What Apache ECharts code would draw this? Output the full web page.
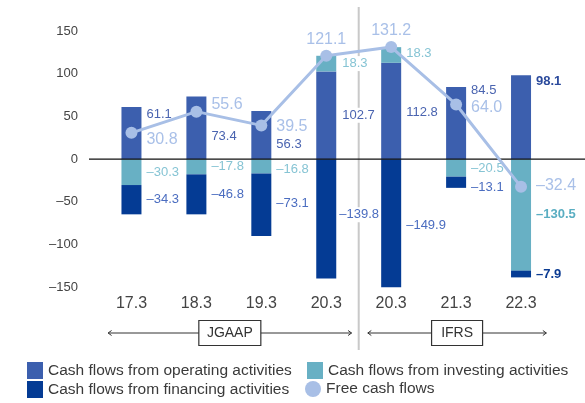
<!DOCTYPE html>
<html>
<head>
<meta charset="utf-8">
<script src="https://cdn.jsdelivr.net/npm/echarts@6/dist/echarts.min.js"></script>
<style>
  html, body { margin: 0; padding: 0; background: #fff; }
  #chart { width: 585px; height: 403px; }
</style>
</head>
<body>
<div id="chart"></div>
<script>
// data (billions of yen)
const categories = ['17.3', '18.3', '19.3', '20.3', '20.3', '21.3', '22.3'];
const operating = [61.1, 73.4, 56.3, 102.7, 112.8, 84.5, 98.1];
const investing = [-30.3, -17.8, -16.8, 18.3, 18.3, -20.5, -130.5];
const financing = [-34.3, -46.8, -73.1, -139.8, -149.9, -13.1, -7.9];
const freeCashFlow = [30.8, 55.6, 39.5, 121.1, 131.2, 64.0, -32.4];
const yTicks = [-150, -100, -50, 0, 50, 100, 150];
const standards = [
    { name: 'JGAAP', first: 0, last: 3 },
    { name: 'IFRS', first: 4, last: 6 }
];

// label nudges (px) so the texts sit where they do in the original
const opDy = [-19, 9, 9, 0, 1, -33, -36];
const invDy = [0, 0, 3, 0, -2, 1, 0];
const finDy = [0, 0, -1, -4, 2, 5, 0];
const fcfDy = [7, -7, 1, 0, 0, 3, -1];

const FONT = '"Liberation Sans", Arial, sans-serif';
const C_OP = '#3c5fae', C_INV = '#68b0c4', C_FIN = '#043b94', C_FCF = '#a8bfe6';

const fmt = v => (v < 0 ? '\u2013' : '') + Math.abs(v).toFixed(1);

const chartDom = document.getElementById('chart');
const myChart = echarts.init(chartDom);

function barItems(values, dy, lastColor, sep) {
    return values.map((v, i) => {
        const label = { offset: [0, dy[i]] };
        if (i === values.length - 1) {
            label.fontWeight = 'bold';
            label.color = lastColor;
        }
        if (i === 3) {
            // the JGAAP 20.3 labels cover the separator line
            label.backgroundColor = '#fff';
            label.padding = [1, 1];
            if (sep) label.offset = [-3, dy[i]];
        }
        return { value: v, label: label };
    });
}

const barLabel = (color) => ({
    show: true,
    position: 'right',
    distance: 5,
    color: color,
    fontSize: 13,
    fontFamily: FONT,
    formatter: p => fmt(p.value)
});

const legendBase = {
    padding: 0,
    itemWidth: 16,
    itemHeight: 17,
    itemGap: 0,
    textStyle: { fontSize: 15.5, color: '#3a3a3a', fontFamily: FONT },
    selectedMode: false
};

const option = {
    animation: false,
    grid: { left: 99, right: 31.5, top: 31, bottom: 115.7 },
    xAxis: {
        type: 'category',
        data: categories,
        axisLine: { show: false },
        axisTick: { show: false },
        axisLabel: { fontSize: 16, color: '#444', fontFamily: FONT, margin: 8 }
    },
    yAxis: {
        type: 'value',
        min: yTicks[0],
        max: yTicks[yTicks.length - 1],
        interval: 50,
        splitLine: { show: false },
        axisLine: { show: false },
        axisTick: { show: false },
        axisLabel: {
            fontSize: 13, color: '#444', fontFamily: FONT, margin: 21,
            formatter: v => (v < 0 ? '\u2013' : '') + Math.abs(v)
        }
    },
    legend: [
        Object.assign({ left: 27, top: 362, data: [{ name: 'Cash flows from operating activities', icon: 'rect' }] }, legendBase),
        Object.assign({ left: 307, top: 362, data: [{ name: 'Cash flows from investing activities', icon: 'rect' }] }, legendBase),
        Object.assign({ left: 27, top: 381, data: [{ name: 'Cash flows from financing activities', icon: 'rect' }] }, legendBase),
        Object.assign({ left: 305, top: 381, data: [{ name: 'Free cash flows', icon: 'circle' }] }, legendBase)
    ],
    series: [
        {
            name: 'Cash flows from operating activities',
            type: 'bar',
            stack: 'cf',
            barWidth: 20,
            itemStyle: { color: C_OP },
            label: barLabel('#4a64b0'),
            data: barItems(operating, opDy, '#2b4a9c', false)
        },
        {
            name: 'Cash flows from investing activities',
            type: 'bar',
            stack: 'cf',
            barWidth: 20,
            itemStyle: { color: C_INV },
            label: barLabel('#86c4d4'),
            data: barItems(investing, invDy, '#5aaec2', false)
        },
        {
            name: 'Cash flows from financing activities',
            type: 'bar',
            stack: 'cf',
            barWidth: 20,
            itemStyle: { color: C_FIN },
            label: barLabel('#4b6dc0'),
            data: barItems(financing, finDy, '#0b3b92', true)
        },
        {
            name: 'Free cash flows',
            type: 'line',
            z: 5,
            symbol: 'circle',
            symbolSize: 12,
            lineStyle: { color: C_FCF, width: 3 },
            itemStyle: { color: C_FCF },
            label: {
                show: true,
                position: 'right',
                distance: 9,
                color: '#a9c0e8',
                fontSize: 16,
                fontFamily: FONT,
                formatter: p => fmt(p.value)
            },
            data: freeCashFlow.map((v, i) => ({
                value: v,
                label: (i === 3 || i === 4)
                    ? { position: 'top', distance: 2, offset: [0, 0] }
                    : { offset: [0, fcfDy[i]] }
            }))
        }
    ]
};

option && myChart.setOption(option);

// decorations: zero line, JGAAP / IFRS separator and brackets
const px = i => myChart.convertToPixel({ xAxisIndex: 0 }, i);
const zeroY = myChart.convertToPixel({ yAxisIndex: 0 }, 0);
const band = px(1) - px(0);
const sepX = (px(3) + px(4)) / 2;
const arrowY = 333;
const graphics = [
    { type: 'line', z: 3, shape: { x1: 89, y1: zeroY, x2: 585, y2: zeroY }, style: { stroke: '#111', lineWidth: 1.2 } },
    { type: 'line', z: 0, shape: { x1: sepX, y1: 7, x2: sepX, y2: 350 }, style: { stroke: '#c9c9c9', lineWidth: 2 } }
];
const boxW = { JGAAP: 62, IFRS: 51 };
standards.forEach(s => {
    const x1 = px(s.first) - band * 0.36;
    const x2 = px(s.last) + band * 0.39;
    const mid = (x1 + x2) / 2;
    const w = boxW[s.name];
    graphics.push(
        { type: 'line', z: 1, shape: { x1: x1, y1: arrowY, x2: x2, y2: arrowY }, style: { stroke: '#333', lineWidth: 1 } },
        { type: 'polyline', z: 1, shape: { points: [[x1 + 3.5, arrowY - 2.5], [x1, arrowY], [x1 + 3.5, arrowY + 2.5]] }, style: { stroke: '#333', lineWidth: 1, fill: null } },
        { type: 'polyline', z: 1, shape: { points: [[x2 - 3.5, arrowY - 2.5], [x2, arrowY], [x2 - 3.5, arrowY + 2.5]] }, style: { stroke: '#333', lineWidth: 1, fill: null } },
        { type: 'rect', z: 2, shape: { x: mid - w / 2, y: arrowY - 12.5, width: w, height: 25 }, style: { fill: '#fff', stroke: '#333', lineWidth: 1.2 } },
        { type: 'text', z: 3, x: mid, y: arrowY, style: { text: s.name, fill: '#333', font: '14px ' + FONT, align: 'center', verticalAlign: 'middle' } }
    );
});
myChart.setOption({ graphic: graphics });
</script>
</body>
</html>
